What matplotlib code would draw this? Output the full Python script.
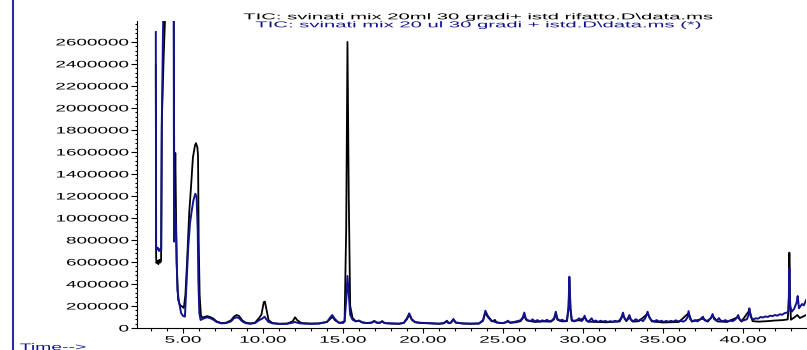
import matplotlib
matplotlib.use("Agg")
import matplotlib.pyplot as plt
from matplotlib.patheffects import AbstractPathEffect
from matplotlib.transforms import Affine2D
from matplotlib.lines import Line2D
from matplotlib.ticker import FixedLocator, MultipleLocator
import numpy as np

# --- data (time in min, abundance in thousands) ---
title_run1 = "TIC: svinati mix 20ml 30 gradi+ istd rifatto.D\\data.ms"
title_run2 = "TIC: svinati mix 20 ul 30 gradi + istd.D\\data.ms (*)"

t_black = [3.30, 3.32, 3.34, 3.40, 3.46, 3.52, 3.58, 3.63, 3.68, 3.80, 3.90, 4.10, 4.40, 4.46, 4.52, 4.56,
           4.60, 4.70, 4.80, 4.95, 5.05, 5.15, 5.25, 5.39, 5.50, 5.62, 5.75, 5.81, 5.90, 5.94, 5.98, 6.04,
           6.12, 6.20, 6.35, 6.50, 6.70, 6.90, 7.10, 7.40, 7.70, 8.00, 8.20, 8.35, 8.50, 8.70, 8.90, 9.20,
           9.50, 9.75, 9.90, 10.05, 10.12, 10.20, 10.35, 10.60, 11.00, 11.50, 11.85, 12.00, 12.15, 12.40,
           13.00, 13.50, 14.00, 14.25, 14.35, 14.50, 14.80, 15.10, 15.20, 15.28, 15.36, 15.45,
           15.6, 15.8, 16.0, 16.2, 16.5, 16.8, 16.95, 17.1, 17.3, 17.45, 17.6, 18.0, 18.5, 18.8, 19.0,
           19.14, 19.3, 19.5, 19.8, 20.2, 20.6, 21.0, 21.3, 21.5, 21.6, 21.75, 21.9, 22.05, 22.5, 23.0,
           23.5, 23.75, 23.9, 24.05, 24.3, 24.5, 24.6, 25.0, 25.3, 25.45, 25.7, 25.9, 26.1, 26.25, 26.33,
           26.42, 26.5, 27.0, 27.5, 28.0, 28.2, 28.3, 28.4, 28.7, 29.0, 29.1, 29.15, 29.22, 29.3, 29.8,
           30.1, 30.3, 30.8, 31.5, 32.3, 32.5, 32.7, 32.9, 33.1, 33.5, 34.04, 34.3, 35.0, 35.5, 36.0,
           36.6, 36.8, 37.5, 37.8, 38.1, 38.4, 39.0, 39.7, 39.9, 40.4, 40.6, 41.0, 41.5, 42.0, 42.5,
           42.8, 42.88, 42.9, 42.94, 43.0, 43.2, 43.4, 43.55, 43.7, 43.95]
i_black = [2390, 650, 590, 610, 580, 620, 595, 610, 1900, 2500, 2900, 4500, 4200, 1000, 1590, 1050,
           590, 255, 210, 194, 182, 300, 590, 1050, 1280, 1550, 1660, 1680, 1640, 1560, 800, 300,
           115, 95, 100, 108, 100, 85, 60, 45, 48, 70, 105, 118, 110, 70, 50, 42,
           48, 90, 120, 235, 240, 180, 70, 45, 38, 40, 60, 97, 70, 45,
           40, 42, 55, 90, 100, 70, 45, 60, 900, 2600, 1200, 200,
           90, 62, 65, 50, 44, 48, 62, 48, 46, 60, 44, 40, 38, 45, 80,
           120, 75, 52, 46, 43, 40, 38, 42, 60, 43, 48, 75, 48, 40, 38,
           40, 65, 140, 100, 60, 73, 50, 43, 60, 47, 50, 55, 62, 90, 125,
           80, 68, 55, 60, 58, 80, 135, 75, 60, 62, 180, 430, 160, 65, 70,
           95, 58, 55, 52, 60, 120, 62, 95, 58, 62, 130, 60, 50, 52, 55,
           135, 58, 85, 58, 110, 60, 55, 100, 58, 160, 62, 58, 62, 68, 72,
           78, 300, 685, 250, 75, 95, 118, 91, 100, 118]

t_blue = [3.30, 3.32, 3.34, 3.42, 3.50, 3.58, 3.64, 3.67, 3.75, 3.85, 4.10, 4.40, 4.44, 4.49, 4.56, 4.65,
          4.75, 4.88, 5.00, 5.12, 5.23, 5.33, 5.44, 5.54, 5.65, 5.77, 5.85, 5.92, 5.96, 6.02, 6.10, 6.2,
          6.35, 6.5, 6.7, 6.9, 7.1, 7.4, 7.7, 8.0, 8.2, 8.35, 8.5, 8.7, 8.9, 9.2, 9.5, 9.8, 9.95, 10.1,
          10.2, 10.35, 10.6, 11.0, 11.5, 11.9, 12.0, 12.2, 12.5, 13.0, 13.5, 14.0, 14.2, 14.33, 14.45,
          14.7, 15.0, 15.1, 15.2, 15.28, 15.36, 15.45,
          15.6, 15.8, 16.0, 16.2, 16.5, 16.8, 16.95, 17.1, 17.3, 17.45, 17.6, 18.0, 18.5, 18.8, 19.0,
          19.14, 19.3, 19.5, 19.8, 20.2, 20.6, 21.0, 21.3, 21.5, 21.6, 21.75, 21.9, 22.05, 22.5, 23.0,
          23.5, 23.75, 23.9, 24.05, 24.3, 24.5, 24.7, 25.0, 25.2, 25.3, 25.45, 25.7, 25.9, 26.1, 26.25,
          26.33, 26.42,
          26.5, 26.7, 26.85, 27.0, 27.15, 27.3, 27.45, 27.6, 27.75, 27.9, 28.05, 28.2, 28.3, 28.4, 28.55,
          28.7, 28.85, 29.0, 29.1, 29.15, 29.22, 29.3, 29.45, 29.6, 29.77, 29.9, 30.0, 30.1, 30.2, 30.35,
          30.54, 30.65, 30.8, 30.95, 31.1, 31.25, 31.4, 31.55, 31.7, 31.85, 32.0, 32.15, 32.3, 32.4, 32.5,
          32.6, 32.75, 32.9, 33.0, 33.15, 33.3, 33.45, 33.6, 33.75, 33.9, 34.04, 34.15, 34.3, 34.45, 34.6,
          34.75, 34.9, 35.05, 35.2, 35.35, 35.5, 35.65, 35.8, 35.95, 36.1, 36.25, 36.4, 36.55, 36.6, 36.7,
          36.85, 37.0, 37.15, 37.3, 37.5, 37.6, 37.75, 37.9, 38.0, 38.1, 38.2, 38.35, 38.5, 38.6, 38.75,
          38.9, 39.05, 39.2, 39.35, 39.5, 39.6, 39.7, 39.8, 39.95, 40.1, 40.25, 40.35, 40.4, 40.5, 40.65,
          40.8, 40.95, 41.1, 41.25, 41.4, 41.55, 41.7, 41.85, 42.0, 42.15, 42.3, 42.45, 42.6, 42.75, 42.85,
          42.9, 42.95, 43.05, 43.2, 43.35, 43.42, 43.5, 43.6, 43.7, 43.8, 43.95]
i_blue = [2690, 740, 710, 730, 700, 720, 715, 1800, 2700, 3500, 5000, 4800, 785, 1090, 920, 345,
          240, 136, 110, 103, 436, 740, 954, 1060, 1160, 1220, 1190, 890, 436, 136, 73, 80,
          90, 97, 90, 75, 55, 42, 45, 60, 90, 97, 90, 60, 45, 38, 45, 75, 85, 103,
          80, 55, 42, 38, 38, 50, 55, 45, 40, 38, 40, 55, 95, 118, 90,
          50, 45, 60, 250, 473, 300, 120,
          75, 60, 68, 52, 45, 50, 65, 50, 48, 62, 45, 42, 40, 48, 90,
          133, 80, 55, 48, 45, 42, 40, 45, 66, 45, 50, 82, 50, 42, 40,
          42, 70, 157, 110, 65, 55, 48, 45, 52, 66, 50, 55, 62, 70, 100,
          140, 90,
          75, 62, 78, 60, 72, 58, 70, 62, 74, 60, 68, 90, 148, 85, 66,
          75, 62, 70, 200, 466, 180, 75, 60, 70, 88, 62, 75, 112, 70, 58,
          88, 60, 68, 55, 66, 58, 64, 55, 62, 57, 65, 58, 72, 95, 140,
          85, 70, 118, 75, 62, 80, 65, 78, 62, 90, 148, 95, 68, 60, 72,
          58, 66, 55, 64, 57, 65, 58, 70, 60, 66, 58, 68, 100, 154, 80,
          62, 72, 60, 75, 103, 70, 64, 78, 90, 127, 80, 66, 90, 68, 62,
          72, 60, 68, 62, 75, 90, 118, 75, 65, 72, 80, 120, 179, 95, 78,
          88, 85, 100, 95, 105, 100, 112, 108, 118, 112, 125, 120, 135, 140, 150,
          543, 200, 148, 175, 230, 291, 179, 200, 218, 205, 255]

y_ticks = list(range(0, 2600001, 200000))
x_ticks = [5, 10, 15, 20, 25, 30, 35, 40]

BLUE = "#12128c"
FONT = "Liberation Sans"


class Widen(AbstractPathEffect):
    """Stretch text glyphs sideways, like the old ChemStation screen font."""

    def __init__(self, sx, anchor="left"):
        super().__init__()
        self.sx = sx
        self.anchor = anchor

    def draw_path(self, renderer, gc, tpath, affine, rgbFace=None):
        ext = tpath.get_extents()
        if self.anchor == "right":
            x0 = ext.x1
        elif self.anchor == "center":
            x0 = (ext.x0 + ext.x1) / 2
        else:
            x0 = ext.x0
        t = Affine2D().translate(-x0, 0).scale(self.sx, 1).translate(x0, 0) + affine
        renderer.draw_path(gc, tpath, t, rgbFace)


fig = plt.figure(figsize=(8.07, 3.50), dpi=100)
ax = fig.add_axes([137 / 807, 22 / 350, 669 / 807, 307 / 350])

ax.plot(t_black, np.array(i_black) * 1000, color="black", lw=1.3)
ax.plot(t_blue, np.array(i_blue) * 1000, color=BLUE, lw=1.4)

ax.set_xlim(2.125, 43.94)
ax.set_ylim(0, 2790000)

for side in ["top", "right"]:
    ax.spines[side].set_visible(False)
for side in ["left", "bottom"]:
    ax.spines[side].set_linewidth(0.8)

ax.yaxis.set_major_locator(FixedLocator(y_ticks))
ax.yaxis.set_minor_locator(MultipleLocator(40000))
ax.xaxis.set_major_locator(FixedLocator(x_ticks))
ax.xaxis.set_minor_locator(MultipleLocator(1))
ax.set_yticklabels([str(v) for v in y_ticks])
ax.set_xticklabels([f"{v:.2f}" for v in x_ticks])

ax.tick_params(axis="y", which="major", direction="out", length=4.5, width=0.8, pad=1.5)
ax.tick_params(axis="y", which="minor", direction="out", length=1.5, width=0.8)
ax.tick_params(axis="x", which="major", direction="out", length=3.5, width=0.8, pad=2)
ax.tick_params(axis="x", which="minor", direction="out", length=2.5, width=0.8)

for lab in ax.get_yticklabels():
    lab.set_fontfamily(FONT)
    lab.set_fontsize(6.8)
    lab.set_path_effects([Widen(2.0, "right")])
for lab in ax.get_xticklabels():
    lab.set_fontfamily(FONT)
    lab.set_fontsize(6.8)
    lab.set_path_effects([Widen(2.0, "center")])

# two-line header, one per run
fig.text(479 / 807, 1 - 19.3 / 350, title_run1, ha="center", va="baseline", fontsize=6.1,
         family=FONT, color="black", path_effects=[Widen(2.39, "center")])
fig.text(479 / 807, 1 - 27.3 / 350, title_run2, ha="center", va="baseline", fontsize=6.1,
         family=FONT, color=BLUE, path_effects=[Widen(2.39, "center")])

# frame edge and time label of the report window (cut by the bottom edge, as on screen)
fig.add_artist(Line2D([13 / 807, 13 / 807], [0, 1], transform=fig.transFigure, color="#2a2aa8", lw=1.5))
fig.text(20 / 807, 1 - 343 / 350, "Time-->", ha="left", va="top", fontsize=6.8,
         family=FONT, color=BLUE, path_effects=[Widen(2.05, "left")])

fig.savefig("out.png", dpi=100)
